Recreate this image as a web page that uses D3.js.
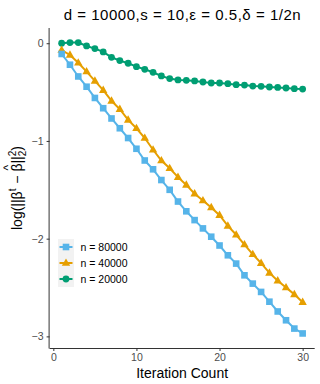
<!DOCTYPE html>
<html>
<head>
  <meta charset="utf-8">
  <script src="https://d3js.org/d3.v7.min.js"></script>
  <style>
    body { margin: 0; padding: 0; background: white; font-family: "Liberation Sans", Arial, sans-serif; }
    .tick text { fill: #4d4d4d; font-size: 10.5px; font-family: "Liberation Sans", Arial, sans-serif; }
    .tick line { stroke: #333; }
    .domain { stroke: #333; }
    .ylab text { white-space: pre; }
  </style>
</head>
<body>
  <div id="chart"></div>
  <script>
    // iteration numbers 1..30
    var iterations = [1, 2, 3, 4, 5, 6, 7, 8, 9, 10, 11, 12, 13, 14, 15,
      16, 17, 18, 19, 20, 21, 22, 23, 24, 25, 26, 27, 28, 29, 30]

    var n80000 = [-0.11, -0.22, -0.34, -0.445, -0.56, -0.665, -0.77, -0.87, -0.97, -1.08,
      -1.2, -1.29, -1.4, -1.5, -1.62, -1.72, -1.81, -1.895, -1.98, -2.07,
      -2.17, -2.255, -2.375, -2.46, -2.545, -2.645, -2.745, -2.835, -2.92, -2.97]

    var n40000 = [-0.07, -0.12, -0.2, -0.29, -0.385, -0.48, -0.59, -0.675, -0.785, -0.87,
      -0.97, -1.09, -1.2, -1.28, -1.37, -1.45, -1.54, -1.61, -1.68, -1.76,
      -1.87, -1.96, -2.06, -2.16, -2.25, -2.35, -2.43, -2.5, -2.57, -2.65]

    var n20000 = [0, 0.007, 0.007, -0.028, -0.055, -0.089, -0.144, -0.178, -0.205, -0.24,
      -0.267, -0.298, -0.335, -0.362, -0.376, -0.38, -0.386, -0.397, -0.407, -0.407,
      -0.414, -0.424, -0.428, -0.438, -0.441, -0.448, -0.452, -0.458, -0.465, -0.469]

    var seriesNames = ["n = 80000", "n = 40000", "n = 20000"]
    var seriesColors = ["#56B4E9", "#E69F00", "#009E73"]
    var seriesShapes = ["square", "triangle", "circle"]

    var xTicks = [0, 10, 20, 30]
    var yTicks = [0, -1, -2, -3]

    var width = 320, height = 384
    // panel edges (note: "top" is reserved on window, so use p-prefixed names)
    var pLeft = 49.6, pRight = 314.7, pTop = 28, pBottom = 348

    var series = [n80000, n40000, n20000].map(function(vals, i) {
      return {
        name: seriesNames[i],
        color: seriesColors[i],
        shape: seriesShapes[i],
        values: vals.map(function(v, j) { return { x: iterations[j], y: v } })
      }
    })

    // ggplot-like 5% expansion
    var xExt = d3.extent(iterations)
    var allY = n80000.concat(n40000, n20000)
    var yExt = d3.extent(allY)
    var xPad = (xExt[1] - xExt[0]) * 0.05
    var yPad = (yExt[1] - yExt[0]) * 0.05

    var x = d3.scaleLinear().domain([xExt[0] - xPad, xExt[1] + xPad]).range([pLeft, pRight])
    var y = d3.scaleLinear().domain([yExt[0] - yPad, yExt[1] + yPad]).range([pBottom, pTop])

    var svg = d3.select("#chart").append("svg")
      .attr("width", width)
      .attr("height", height)

    // axes
    var xAxis = svg.append("g")
      .attr("transform", "translate(0," + pBottom + ")")
      .call(d3.axisBottom(x).tickValues(xTicks).tickSize(3).tickPadding(3).tickSizeOuter(0))
    xAxis.select(".domain").attr("d", "M" + pLeft + ",0.5H" + pRight)

    var yAxis = svg.append("g")
      .attr("transform", "translate(" + pLeft + ",0)")
      .call(d3.axisLeft(y).tickValues(yTicks).tickSize(3).tickPadding(3).tickSizeOuter(0)
        .tickFormat(function(d) { return d < 0 ? "\u2212" + Math.abs(d) : d }))
    yAxis.select(".domain").attr("d", "M-0.5," + pTop + "V" + (pBottom + 0.5))

    var line = d3.line()
      .x(function(d) { return x(d.x) })
      .y(function(d) { return y(d.y) })

    function drawShape(sel, shape, color) {
      if (shape === "square") {
        sel.append("rect").attr("x", -3.3).attr("y", -3.3).attr("width", 6.6).attr("height", 6.6).attr("fill", color)
      } else if (shape === "triangle") {
        sel.append("path").attr("d", "M0,-4.6L4.2,2.8L-4.2,2.8Z").attr("fill", color)
      } else {
        sel.append("circle").attr("r", 3.4).attr("fill", color)
      }
    }

    var plot = svg.append("g")
    series.slice().reverse().forEach(function(s) {
      plot.append("path")
        .datum(s.values)
        .attr("d", line)
        .attr("fill", "none")
        .attr("stroke", s.color)
        .attr("stroke-width", 2)
      plot.append("g").selectAll("g")
        .data(s.values)
        .enter().append("g")
        .attr("transform", function(d) { return "translate(" + x(d.x) + "," + y(d.y) + ")" })
        .each(function() { drawShape(d3.select(this), s.shape, s.color) })
    })

    // legend
    var legend = svg.append("g").attr("transform", "translate(58,239)")
    series.forEach(function(s, i) {
      var g = legend.append("g").attr("transform", "translate(0," + (i * 16) + ")")
      g.append("rect").attr("x", 0).attr("y", 0).attr("width", 16).attr("height", 16).attr("fill", "#f2f2f2")
      g.append("line").attr("x1", 1.5).attr("x2", 14.5).attr("y1", 8).attr("y2", 8)
        .attr("stroke", s.color).attr("stroke-width", 2)
      drawShape(g.append("g").attr("transform", "translate(8,8)"), s.shape, s.color)
      g.append("text").attr("x", 22.5).attr("y", 12)
        .attr("font-size", "10.5px").attr("fill", "black")
        .text(s.name)
    })

    // title
    svg.append("text")
      .attr("x", (pLeft + pRight) / 2)
      .attr("y", 20)
      .attr("text-anchor", "middle")
      .attr("font-size", "15px")
      .attr("textLength", 237)
      .attr("lengthAdjust", "spacing")
      .text("d = 10000,s = 10,\u03b5 = 0.5,\u03b4 = 1/2n")

    // x label
    svg.append("text")
      .attr("x", (pLeft + pRight) / 2)
      .attr("y", 378)
      .attr("text-anchor", "middle")
      .attr("font-size", "14px")
      .text("Iteration Count")

    // y label, built piece by piece
    var ylab = svg.append("g").attr("class", "ylab")
    var cx = 0
    function piece(txt, size, dy) {
      var t = ylab.append("text").attr("x", cx).attr("y", dy).attr("font-size", size + "px").text(txt)
      var w = t.node().getComputedTextLength()
      cx += w
      return { node: t, w: w }
    }
    piece("log(||\u03b2", 14, 0)
    piece("t", 10, -6)
    cx += 1
    piece(" \u2212 ", 14, 0)
    var bx = cx
    var beta = piece("\u03b2", 14, 0)
    ylab.append("text").attr("x", bx + beta.w / 2).attr("y", -10)
      .attr("text-anchor", "middle").attr("font-size", "12px").text("^")
    piece("||", 14, 0)
    var sx = cx
    piece("2", 10, -6)
    cx = sx
    piece("2", 10, 4)
    piece(")", 14, 0)
    var total = cx
    ylab.attr("transform", "translate(22," + ((pTop + pBottom) / 2) + ") rotate(-90) translate(" + (-total / 2) + ",0)")
  </script>
</body>
</html>
